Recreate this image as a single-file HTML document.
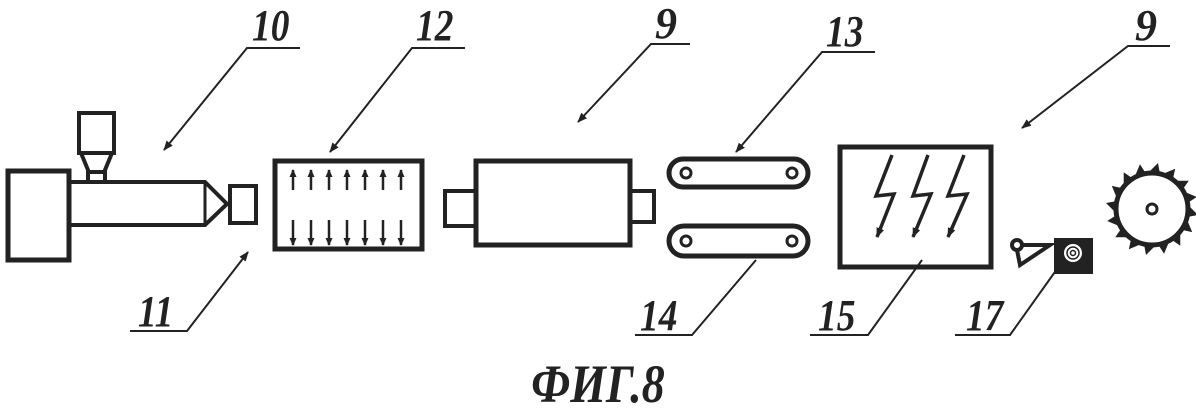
<!DOCTYPE html>
<html><head><meta charset="utf-8"><style>
html,body{margin:0;padding:0;background:#fff;}
svg{display:block;}
text{font-family:"Liberation Serif",serif;font-weight:bold;font-style:italic;fill:#222;}
</style></head><body>
<svg width="1196" height="408" viewBox="0 0 1196 408" xmlns="http://www.w3.org/2000/svg">
<defs>
<marker id="ar" markerWidth="10" markerHeight="8" refX="9" refY="4" orient="auto" markerUnits="userSpaceOnUse">
<path d="M0,0 L10,4 L0,8 z" fill="#222"/></marker>
<marker id="sa" markerWidth="8" markerHeight="7" refX="7" refY="3.5" orient="auto" markerUnits="userSpaceOnUse">
<path d="M0,0 L8,3.5 L0,7 z" fill="#222"/></marker>
</defs>
<g stroke="#222" fill="none">
<rect x="8" y="171" width="61" height="89" stroke-width="5"/>
<path d="M69,182 H205 L227,204 L205,225 H69" stroke-width="4"/>
<path d="M205,182 V225" stroke-width="3"/>
<rect x="230" y="186" width="26" height="37" stroke-width="4"/>
<rect x="79" y="113" width="35" height="40" stroke-width="4"/>
<path d="M81,153 L88,170 V182 M112,153 L105,170 V182 M88,172 H105" stroke-width="4"/>
<rect x="275" y="161" width="147" height="88" stroke-width="5"/>
<g stroke-width="2.5" marker-end="url(#sa)">
<line x1="293" y1="190" x2="293" y2="170"/><line x1="311" y1="190" x2="311" y2="170"/><line x1="329" y1="190" x2="329" y2="170"/><line x1="347" y1="190" x2="347" y2="170"/><line x1="365" y1="190" x2="365" y2="170"/><line x1="383" y1="190" x2="383" y2="170"/><line x1="401" y1="190" x2="401" y2="170"/>
<line x1="293" y1="220" x2="293" y2="245"/><line x1="311" y1="220" x2="311" y2="245"/><line x1="329" y1="220" x2="329" y2="245"/><line x1="347" y1="220" x2="347" y2="245"/><line x1="365" y1="220" x2="365" y2="245"/><line x1="383" y1="220" x2="383" y2="245"/><line x1="401" y1="220" x2="401" y2="245"/>
</g>
<rect x="476" y="161" width="154" height="84" stroke-width="5"/>
<rect x="445" y="191" width="31" height="35" stroke-width="4"/>
<rect x="630" y="191" width="24" height="31" stroke-width="4"/>
<rect x="669" y="159" width="139" height="28" rx="14" stroke-width="5"/>
<rect x="669" y="226" width="139" height="30" rx="15" stroke-width="5"/>
<circle cx="686" cy="173" r="5" stroke-width="3"/><circle cx="792" cy="173" r="5" stroke-width="3"/>
<circle cx="686" cy="241" r="5" stroke-width="3"/><circle cx="792" cy="241" r="5" stroke-width="3"/>
<rect x="840" y="147" width="151" height="120" stroke-width="5"/>
<g stroke-width="3.5">
<path d="M892,155 L876,196 L894,194 L877,237" marker-end="url(#ar)"/>
<path d="M928,155 L913,196 L931,194 L913,237" marker-end="url(#ar)"/>
<path d="M964,155 L948,196 L967,194 L948,237" marker-end="url(#ar)"/>
</g>
<circle cx="1017" cy="245" r="5" stroke-width="4"/>
<path d="M1022,245 H1050 L1020,265 L1017,250" stroke-width="4"/>
<rect x="1056" y="240" width="35" height="32" stroke-width="4" fill="#222"/>
<circle cx="1073" cy="253" r="10" fill="#fff" stroke-width="2"/>
<circle cx="1073" cy="253" r="6" stroke-width="1.5"/>
<circle cx="1073" cy="253" r="2.5" stroke-width="1.5"/>
<circle cx="1152" cy="209" r="36" stroke-width="5"/>
<circle cx="1152" cy="209" r="5" stroke-width="3"/>
<g fill="#222" stroke="none" transform="translate(1152,209)">
<path id="t" d="M36,-4 L46,6 L35,8 z"/>
<use href="#t" transform="rotate(22.5)"/><use href="#t" transform="rotate(45)"/><use href="#t" transform="rotate(67.5)"/>
<use href="#t" transform="rotate(90)"/><use href="#t" transform="rotate(112.5)"/><use href="#t" transform="rotate(135)"/>
<use href="#t" transform="rotate(157.5)"/><use href="#t" transform="rotate(180)"/><use href="#t" transform="rotate(202.5)"/>
<use href="#t" transform="rotate(225)"/><use href="#t" transform="rotate(247.5)"/><use href="#t" transform="rotate(270)"/>
<use href="#t" transform="rotate(292.5)"/><use href="#t" transform="rotate(315)"/><use href="#t" transform="rotate(337.5)"/>
</g>
<g stroke-width="2">
<path d="M300,48 H247 L164,150" marker-end="url(#ar)"/>
<path d="M465,48 H412 L330,152" marker-end="url(#ar)"/>
<path d="M690,44 H651 L578,122" marker-end="url(#ar)"/>
<path d="M875,52 H822 L736,152" marker-end="url(#ar)"/>
<path d="M1170,46 H1128 L1022,128" marker-end="url(#ar)"/>
<path d="M130,331 H187 L248,252" marker-end="url(#ar)"/>
<path d="M635,335 H692 L756,260"/>
<path d="M810,335 H868 L922,260"/>
<path d="M955,335 H1010 L1062,262"/>
</g>
</g>
<g font-size="44">
<text x="252" y="40" transform="translate(252,40) scale(0.85,1) translate(-252,-40)">10</text>
<text x="416" y="40" transform="translate(416,40) scale(0.85,1) translate(-416,-40)">12</text>
<text x="655" y="38">9</text>
<text x="826" y="46" transform="translate(826,46) scale(0.85,1) translate(-826,-46)">13</text>
<text x="1135" y="40">9</text>
<text x="138" y="326" transform="translate(138,326) scale(0.85,1) translate(-138,-326)">11</text>
<text x="640" y="330" transform="translate(640,330) scale(0.85,1) translate(-640,-330)">14</text>
<text x="818" y="330" transform="translate(818,330) scale(0.85,1) translate(-818,-330)">15</text>
<text x="966" y="330" transform="translate(966,330) scale(0.85,1) translate(-966,-330)">17</text>
</g>
<text x="598" y="402" font-size="54" text-anchor="middle" transform="translate(598,402) scale(0.85,1) translate(-598,-402)">ФИГ.8</text>
</svg>
</body></html>
